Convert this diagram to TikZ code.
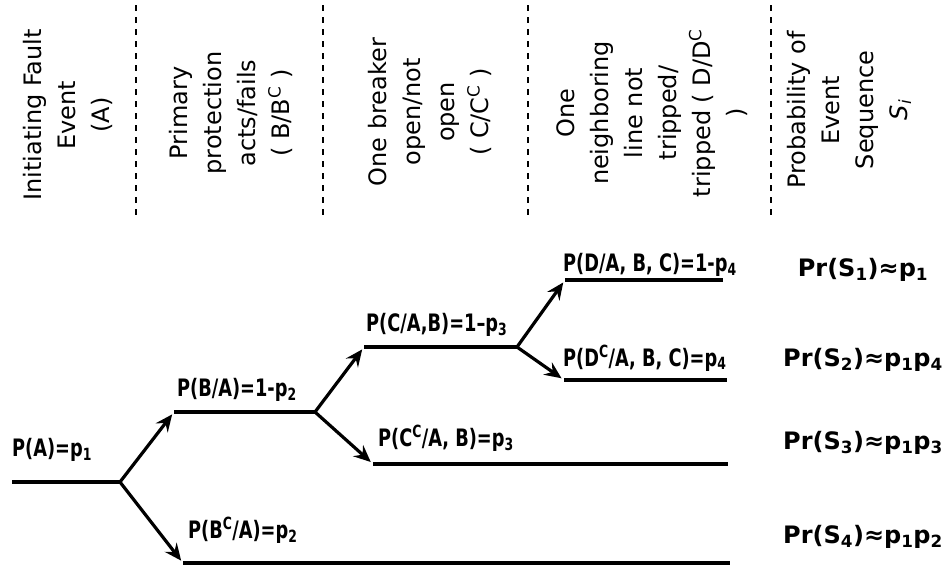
\documentclass[tikz,border=0pt]{standalone}
\usepackage{graphicx}
\usepackage{fontspec}
\setmainfont{DejaVu Sans}
\usetikzlibrary{arrows.meta}
\newcommand{\tightlbl}[1]{\scalebox{0.74}[1]{#1}}
\begin{document}
\begin{tikzpicture}[x=1pt,y=-1pt,
		branch/.style={line width=3.2pt},
		fork/.style={line width=3.2pt,-{Stealth[length=17pt,width=15pt,inset=6pt]},shorten >=3pt},
		sepline/.style={line width=1.2pt,dash pattern=on 6pt off 6pt},
		head node/.style={rotate=90,align=center,inner sep=0pt,font=\fontsize{24}{34}\selectfont},
		prob node/.style={anchor=west,inner sep=0pt,font=\fontsize{24}{28}\selectfont\bfseries},
		seq node/.style={inner sep=0pt,font=\fontsize{24}{28}\selectfont\bfseries}]
		\useasboundingbox (0,0) rectangle (947,565);
		% column headers
		\node[head node] (hA) at (68,115) {Initiating Fault\\Event\\(A)};
		\node[head node] (hB) at (231,113) {Primary\\protection\\acts/fails\\( B/B\textsuperscript{C} )};
		\node[head node] (hC) at (430,112) {One breaker\\open/not\\open\\( C/C\textsuperscript{C} )};
		\node[head node] (hD) at (652,113) {One\\neighboring\\line not\\tripped/\\tripped ( D/D\textsuperscript{C}\\)};
		\node[head node] (hS) at (849,110) {Probability of\\Event\\Sequence\\\textit{S\textsubscript{i}}};
		\foreach \x in {136,323,528,771}
		\draw[sepline] (\x,5) -- (\x,220);
		
		\coordinate (a0) at (12,482);   \coordinate (a1) at (120,482);
		\coordinate (b0) at (174,412);  \coordinate (b1) at (315,412);
		\coordinate (bc0) at (183,563); \coordinate (bc1) at (730,563);
		\coordinate (c0) at (364,347);  \coordinate (c1) at (517,347);
		\coordinate (cc0) at (373,464); \coordinate (cc1) at (728,464);
		\coordinate (d0) at (565,280);  \coordinate (d1) at (723,280);
		\coordinate (dc0) at (564,380); \coordinate (dc1) at (727,380);
		\draw[branch] (a0) -- (a1) (b0) -- (b1) (bc0) -- (bc1) (c0) -- (c1)
		(cc0) -- (cc1) (d0) -- (d1) (dc0) -- (dc1);
		\draw[fork] (a1) -- (b0);
		\draw[fork] (a1) -- (bc0);
		\draw[fork] (b1) -- (c0);
		\draw[fork] (b1) -- (cc0);
		\draw[fork] (c1) -- (d0);
		\draw[fork] (c1) -- (dc0);
		
		\node[prob node] (pA) at (12,450) {\tightlbl{P(A)=p\textsubscript{1}}};
		\node[prob node] (pB) at (177,390) {\tightlbl{P(B/A)=1-p\textsubscript{2}}};
		\node[prob node] (pBc) at (188,530) {\tightlbl{P(B\textsuperscript{C}/A)=p\textsubscript{2}}};
		\node[prob node] (pC) at (366,325) {\tightlbl{P(C/A,B)=1–p\textsubscript{3}}};
		\node[prob node] (pCc) at (378,438) {\tightlbl{P(C\textsuperscript{C}/A, B)=p\textsubscript{3}}};
		\node[prob node] (pD) at (563,265) {\tightlbl{P(D/A, B, C)=1-p\textsubscript{4}}};
		\node[prob node] (pDc) at (563,358) {\tightlbl{P(D\textsuperscript{C}/A, B, C)=p\textsubscript{4}}};
		
		\node[seq node] (s1) at (863,270) {Pr(S\textsubscript{1})≈p\textsubscript{1}};
		\node[seq node] (s2) at (863,360) {Pr(S\textsubscript{2})≈p\textsubscript{1}p\textsubscript{4}};
		\node[seq node] (s3) at (863,443) {Pr(S\textsubscript{3})≈p\textsubscript{1}p\textsubscript{3}};
		\node[seq node] (s4) at (863,537) {Pr(S\textsubscript{4})≈p\textsubscript{1}p\textsubscript{2}};
\end{tikzpicture}
\end{document}
